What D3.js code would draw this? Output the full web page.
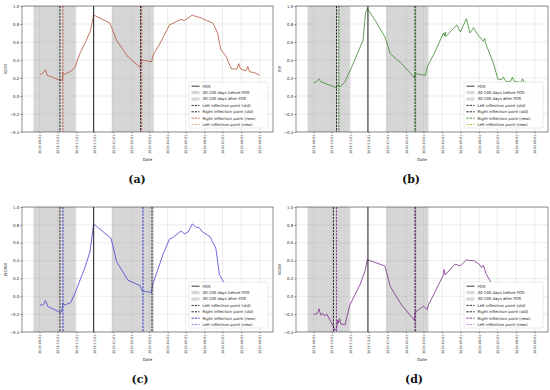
<!DOCTYPE html>
<html>
<head>
<meta charset="utf-8">
<script src="https://cdn.jsdelivr.net/npm/d3@7"></script>
<style>
  body { margin: 0; background: #fff; }
  svg { display: block; }
</style>
</head>
<body>
<svg id="fig" width="550" height="390"></svg>
<script>
// Asse x e tick
const X_DOMAIN = ["2019-08-03", "2020-09-23"];
const X_TICKS = ["2019-09-01", "2019-10-01", "2019-11-01", "2019-12-01", "2020-01-01", "2020-02-01", "2020-03-01",
  "2020-04-01", "2020-05-01", "2020-06-01", "2020-07-01", "2020-08-01", "2020-09-01"];
const Y_TICKS = [-0.4, -0.2, 0.0, 0.2, 0.4, 0.6, 0.8, 1.0];
const POS_DATE = "2019-11-30";
const SPAN_DAYS = [30, 100];
const LEGEND_LABELS = ["POS", "30-100 days before POS", "30-100 days after POS", "Left inflection point (old)",
  "Right inflection point (old)", "Right inflection point (new)", "Left inflection point (new)"];
const PANEL_NAMES = ["NDVI", "EVI", "WDRVI", "NDWI"];
const CAPTIONS = ["(a)", "(b)", "(c)", "(d)"];

// NDVI
const ndviDates = ["2019-09-02", "2019-09-06", "2019-09-11", "2019-09-14", "2019-09-24", "2019-10-05", "2019-10-09",
  "2019-10-10", "2019-10-13", "2019-10-24", "2019-10-30", "2019-11-07", "2019-11-18", "2019-11-25", "2019-11-30",
  "2019-12-27", "2020-01-07", "2020-01-26", "2020-02-15", "2020-02-18", "2020-03-05", "2020-03-09", "2020-03-19",
  "2020-04-04", "2020-04-23", "2020-04-29", "2020-05-12", "2020-05-19", "2020-05-24", "2020-06-04", "2020-06-15",
  "2020-06-23", "2020-06-28", "2020-07-07", "2020-07-16", "2020-07-25", "2020-07-28", "2020-07-31", "2020-08-09",
  "2020-08-12", "2020-08-15", "2020-08-23", "2020-09-01"];
const ndviValues = [0.24, 0.25, 0.29, 0.23, 0.205, 0.175, 0.175, 0.26, 0.24, 0.28, 0.32, 0.47, 0.62, 0.73, 0.90,
  0.81, 0.62, 0.435, 0.32, 0.40, 0.38, 0.47, 0.58, 0.79, 0.85, 0.84, 0.90, 0.88, 0.875, 0.84, 0.81,
  0.70, 0.52, 0.44, 0.30, 0.30, 0.36, 0.30, 0.28, 0.33, 0.27, 0.26, 0.23];
const ndviOld = ["2019-10-05", "2020-02-16"];
const ndviNew = ["2019-10-10", "2020-02-18"];

// EVI
const eviDates = ["2019-09-01", "2019-09-06", "2019-09-10", "2019-09-13", "2019-09-20", "2019-10-06", "2019-10-09",
  "2019-10-12", "2019-10-15", "2019-10-23", "2019-11-03", "2019-11-22", "2019-11-26", "2019-11-29", "2019-12-12",
  "2019-12-28", "2020-01-06", "2020-01-25", "2020-02-15", "2020-02-16", "2020-03-04", "2020-03-07", "2020-03-20",
  "2020-04-03", "2020-04-05", "2020-04-06", "2020-04-07", "2020-04-25", "2020-05-01", "2020-05-11", "2020-05-17",
  "2020-05-23", "2020-05-28", "2020-06-05", "2020-06-08", "2020-06-10", "2020-06-12", "2020-06-25", "2020-07-02",
  "2020-07-08", "2020-07-11", "2020-07-16", "2020-07-23", "2020-07-26", "2020-07-29", "2020-08-09", "2020-08-12",
  "2020-08-14", "2020-08-21"];
const eviValues = [0.15, 0.157, 0.19, 0.157, 0.14, 0.10, 0.094, 0.13, 0.10, 0.157, 0.32, 0.62, 0.92, 0.975, 0.84,
  0.66, 0.47, 0.36, 0.20, 0.25, 0.23, 0.32, 0.49, 0.70, 0.67, 0.71, 0.66, 0.79, 0.71, 0.86, 0.70,
  0.76, 0.70, 0.63, 0.61, 0.64, 0.58, 0.36, 0.19, 0.18, 0.21, 0.16, 0.16, 0.21, 0.165, 0.15, 0.19,
  0.155, 0.146];
const eviOld = ["2019-10-09", "2020-02-16"];
const eviNew = ["2019-10-13", "2020-02-17"];

// WDRVI
const wdrviDates = ["2019-09-02", "2019-09-07", "2019-09-11", "2019-09-15", "2019-09-27", "2019-10-05", "2019-10-08",
  "2019-10-10", "2019-10-13", "2019-10-23", "2019-10-30", "2019-11-16", "2019-11-24", "2019-11-30", "2019-12-29",
  "2020-01-07", "2020-01-26", "2020-02-15", "2020-02-19", "2020-03-05", "2020-03-07", "2020-03-24", "2020-04-04",
  "2020-04-10", "2020-04-23", "2020-04-29", "2020-05-05", "2020-05-12", "2020-05-19", "2020-05-23", "2020-05-29",
  "2020-06-10", "2020-06-20", "2020-06-26", "2020-07-04"];
const wdrviValues = [-0.097, -0.097, -0.048, -0.115, -0.153, -0.18, -0.17, -0.078, -0.097, -0.07, 0.034, 0.33, 0.50,
  0.81, 0.65, 0.39, 0.18, 0.12, 0.06, 0.042, 0.13, 0.465, 0.64, 0.66, 0.73, 0.70, 0.72, 0.81, 0.77, 0.77,
  0.72, 0.67, 0.54, 0.24, 0.15];
const wdrviOld = ["2019-10-05", "2020-03-06"];
const wdrviNew = ["2019-10-10", "2020-02-20"];

// NDWI
const ndwiDates = ["2019-09-01", "2019-09-06", "2019-09-09", "2019-09-10", "2019-09-13", "2019-09-16", "2019-09-19",
  "2019-09-23", "2019-10-04", "2019-10-06", "2019-10-09", "2019-10-11", "2019-10-12", "2019-10-14", "2019-10-16",
  "2019-10-23", "2019-10-31", "2019-11-17", "2019-11-25", "2019-11-29", "2019-12-28", "2020-01-06", "2020-01-25",
  "2020-02-15", "2020-02-16", "2020-03-01", "2020-03-04", "2020-03-07", "2020-03-09", "2020-03-26", "2020-04-03",
  "2020-04-04", "2020-04-06", "2020-04-22", "2020-05-01", "2020-05-11", "2020-05-15", "2020-05-23", "2020-06-01",
  "2020-06-05", "2020-06-08", "2020-06-12", "2020-06-21"];
const ndwiValues = [-0.20, -0.20, -0.17, -0.14, -0.21, -0.19, -0.22, -0.20, -0.34, -0.38, -0.36, -0.27, -0.30,
  -0.25, -0.31, -0.32, -0.10, 0.13, 0.28, 0.41, 0.34, 0.11, -0.10, -0.27, -0.18, -0.11, -0.13, -0.15,
  -0.10, 0.13, 0.24, 0.30, 0.24, 0.36, 0.34, 0.41, 0.40, 0.40, 0.36, 0.32, 0.35, 0.26, 0.15];
const ndwiOld = ["2019-10-04", "2020-02-16"];
const ndwiNew = ["2019-10-09", "2020-02-17"];

const parse = d3.utcParse("%Y-%m-%d");
const fmt = d3.utcFormat("%Y-%m-%d");

const panels = [
  { name: PANEL_NAMES[0], cap: CAPTIONS[0], dates: ndviDates, values: ndviValues, old: ndviOld, neu: ndviNew,
    color: "#b5533c", newR: "#b5533c", newL: "#e9a27a",
    box: { l: 22, r: 273, t: 6, b: 132 }, capX: 137, capY: 183 },
  { name: PANEL_NAMES[1], cap: CAPTIONS[1], dates: eviDates, values: eviValues, old: eviOld, neu: eviNew,
    color: "#3d8a2e", newR: "#2f7d24", newL: "#9acd32",
    box: { l: 296, r: 548, t: 6, b: 132 }, capX: 411, capY: 183 },
  { name: PANEL_NAMES[2], cap: CAPTIONS[2], dates: wdrviDates, values: wdrviValues, old: wdrviOld, neu: wdrviNew,
    color: "#4545d2", newR: "#2424c4", newL: "#7878e6",
    box: { l: 22, r: 273, t: 207, b: 332 }, capX: 140, capY: 383 },
  { name: PANEL_NAMES[3], cap: CAPTIONS[3], dates: ndwiDates, values: ndwiValues, old: ndwiOld, neu: ndwiNew,
    color: "#7b2d8b", newR: "#7b2d8b", newL: "#c084d0",
    box: { l: 296, r: 548, t: 207, b: 332 }, capX: 414, capY: 383 },
];

const svg = d3.select("#fig");
const SPAN_FILL = "#d6d6d6";

function drawPanel(p) {
  const { l, r, t, b } = p.box;
  const x = d3.scaleUtc().domain(X_DOMAIN.map(parse)).range([l, r]);
  const y = d3.scaleLinear().domain([-0.4, 1.0]).range([b, t]);
  const g = svg.append("g");

  const clipId = "clip-" + p.name;
  g.append("clipPath").attr("id", clipId).append("rect")
    .attr("x", l).attr("y", t).attr("width", r - l).attr("height", b - t);
  const plot = g.append("g").attr("clip-path", `url(#${clipId})`);

  // span grigi prima / dopo POS
  const pos = parse(POS_DATE);
  const spans = [
    [d3.utcDay.offset(pos, -SPAN_DAYS[1]), d3.utcDay.offset(pos, -SPAN_DAYS[0])],
    [d3.utcDay.offset(pos, SPAN_DAYS[0]), d3.utcDay.offset(pos, SPAN_DAYS[1])],
  ];
  plot.selectAll("rect.span").data(spans).join("rect")
    .attr("class", "span")
    .attr("x", (d) => x(d[0])).attr("width", (d) => x(d[1]) - x(d[0]))
    .attr("y", t).attr("height", b - t)
    .attr("fill", SPAN_FILL);

  // griglia
  plot.selectAll("line.gx").data(X_TICKS.map(parse)).join("line")
    .attr("x1", (d) => x(d)).attr("x2", (d) => x(d)).attr("y1", t).attr("y2", b)
    .attr("stroke", "#b0b0b0").attr("stroke-opacity", 0.55).attr("stroke-width", 0.45);
  plot.selectAll("line.gy").data(Y_TICKS).join("line")
    .attr("x1", l).attr("x2", r).attr("y1", (d) => y(d)).attr("y2", (d) => y(d))
    .attr("stroke", "#b0b0b0").attr("stroke-opacity", 0.55).attr("stroke-width", 0.45);

  // serie
  const series = p.dates.map((d, i) => ({ date: parse(d), value: p.values[i] }));
  plot.append("path").datum(series)
    .attr("fill", "none").attr("stroke", p.color).attr("stroke-width", 0.8)
    .attr("stroke-linejoin", "round")
    .attr("d", d3.line().x((d) => x(d.date)).y((d) => y(d.value)));

  // POS
  plot.append("line")
    .attr("x1", x(pos)).attr("x2", x(pos)).attr("y1", t).attr("y2", b)
    .attr("stroke", "#222").attr("stroke-width", 1);

  // punti di flesso
  const vlines = [
    { date: p.old[0], color: "#111" },
    { date: p.old[1], color: "#111" },
    { date: p.neu[1], color: p.newR },
    { date: p.neu[0], color: p.newL === undefined ? p.newR : p.newR },
  ];
  plot.selectAll("line.vl").data(vlines).join("line")
    .attr("x1", (d) => x(parse(d.date))).attr("x2", (d) => x(parse(d.date)))
    .attr("y1", t).attr("y2", b)
    .attr("stroke", (d) => d.color).attr("stroke-width", 0.9)
    .attr("stroke-dasharray", "2.2,1.1");

  // assi
  const xAxis = g.append("g").attr("transform", `translate(0,${b})`)
    .call(d3.axisBottom(x).tickValues(X_TICKS.map(parse)).tickFormat(fmt).tickSize(1.6).tickPadding(1));
  xAxis.select(".domain").remove();
  xAxis.selectAll("line").attr("stroke-width", 0.4);
  xAxis.selectAll("text")
    .attr("font-family", "DejaVu Sans").attr("font-size", 3.3).attr("fill", "#222")
    .attr("text-anchor", "end").attr("transform", "rotate(-90)")
    .attr("x", -2.6).attr("y", 0).attr("dy", "0.35em");

  const yAxis = g.append("g").attr("transform", `translate(${l},0)`)
    .call(d3.axisLeft(y).tickValues(Y_TICKS).tickFormat(d3.format(".1f")).tickSize(1.6).tickPadding(1.2));
  yAxis.select(".domain").remove();
  yAxis.selectAll("line").attr("stroke-width", 0.4);
  yAxis.selectAll("text").attr("font-family", "DejaVu Sans").attr("font-size", 3.9).attr("fill", "#222");

  g.append("rect").attr("x", l).attr("y", t).attr("width", r - l).attr("height", b - t)
    .attr("fill", "none").attr("stroke", "#222").attr("stroke-width", 0.5);

  g.append("text").attr("transform", `translate(${l - 15},${(t + b) / 2}) rotate(-90)`)
    .attr("text-anchor", "middle").attr("font-family", "DejaVu Sans").attr("font-size", 4)
    .attr("fill", "#222").text(p.name);
  g.append("text").attr("x", (l + r) / 2).attr("y", b + 29)
    .attr("text-anchor", "middle").attr("font-family", "DejaVu Sans").attr("font-size", 4)
    .attr("fill", "#222").text("Date");

  g.append("text").attr("x", p.capX).attr("y", p.capY)
    .attr("text-anchor", "middle").attr("font-family", "DejaVu Serif").attr("font-weight", "bold")
    .attr("font-size", 11).attr("fill", "#111").text(p.cap);

  // legenda
  const lw = 79, lh = 46;
  const lx = r - 5 - lw, ly = b - 4 - lh;
  const leg = g.append("g");
  leg.append("rect").attr("x", lx).attr("y", ly).attr("width", lw).attr("height", lh).attr("rx", 1)
    .attr("fill", "#fff").attr("fill-opacity", 0.85).attr("stroke", "#cccccc").attr("stroke-width", 0.4);
  const handles = [
    { type: "line", color: "#222", dash: null },
    { type: "patch" },
    { type: "patch" },
    { type: "line", color: "#111", dash: "2.2,1.1" },
    { type: "line", color: "#111", dash: "2.2,1.1" },
    { type: "line", color: p.newR, dash: "2.2,1.1" },
    { type: "line", color: p.newL, dash: "2.2,1.1" },
  ];
  LEGEND_LABELS.forEach((label, i) => {
    const cy = ly + 4.2 + i * 6.4;
    const h = handles[i];
    if (h.type === "patch") {
      leg.append("rect").attr("x", lx + 2.5).attr("y", cy - 1.5).attr("width", 8).attr("height", 3)
        .attr("fill", SPAN_FILL);
    } else {
      leg.append("line").attr("x1", lx + 2.5).attr("x2", lx + 10.5).attr("y1", cy).attr("y2", cy)
        .attr("stroke", h.color).attr("stroke-width", 0.9).attr("stroke-dasharray", h.dash);
    }
    leg.append("text").attr("x", lx + 13.5).attr("y", cy).attr("dy", "0.35em")
      .attr("font-family", "DejaVu Sans").attr("font-size", 3.9).attr("fill", "#222").text(label);
  });
}

panels.forEach(drawPanel);
</script>
</body>
</html>
